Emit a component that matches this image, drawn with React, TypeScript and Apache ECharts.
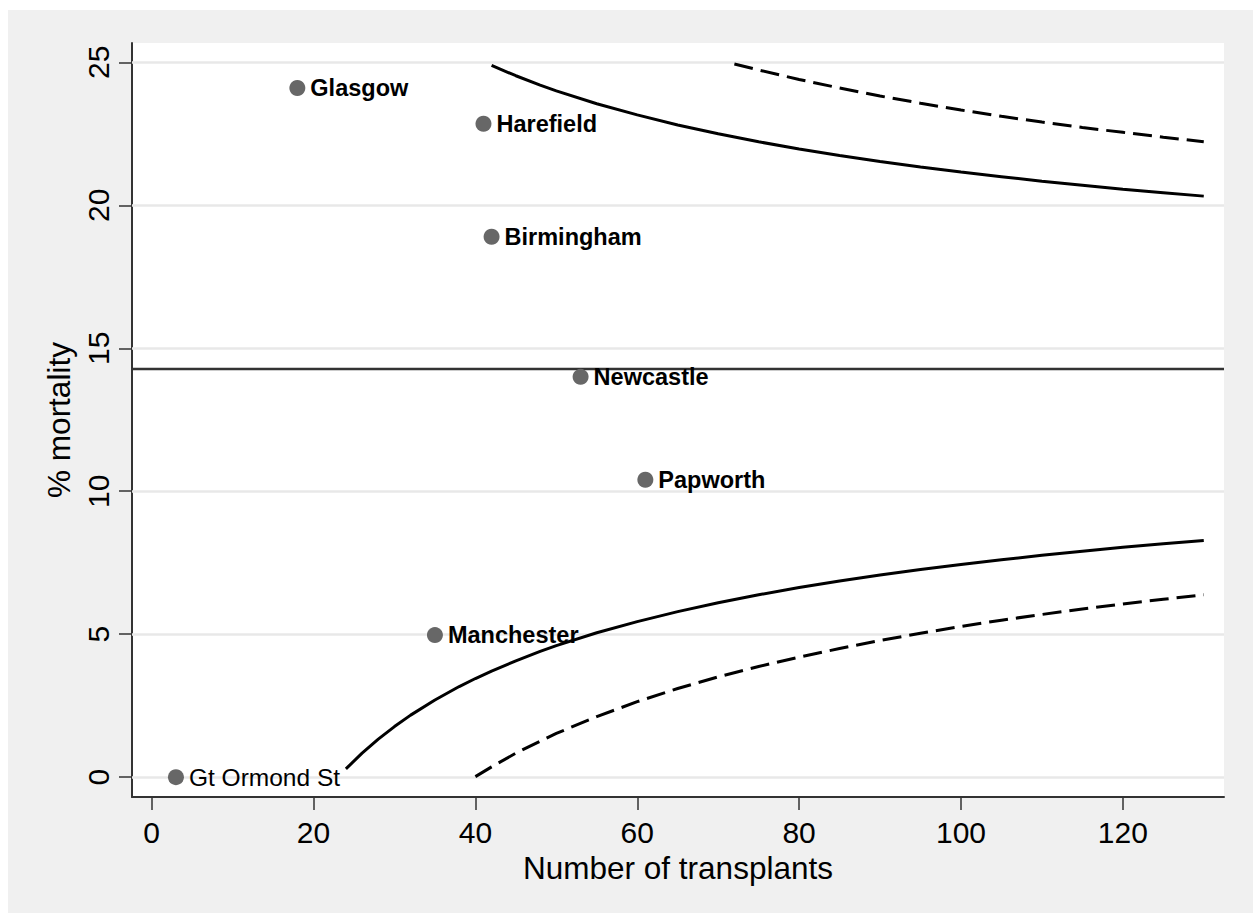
import React, { useEffect, useRef } from "react";
import * as echarts from "echarts";

// Transplant centres: number of transplants vs % mortality
const centreNames = ["Glasgow", "Harefield", "Birmingham", "Newcastle", "Papworth", "Manchester", "Gt Ormond St"];
const centreN = [18, 41, 42, 53, 61, 35, 3];
const centreMortality = [24.1, 22.85, 18.9, 14.0, 10.4, 4.97, 0];

// Overall mortality
const overallMortality = 14.3;

// 95% limits (solid)
const upper95N = [42, 45, 48, 50, 55, 60, 65, 70, 75, 80, 85, 90, 95, 100, 105, 110, 115, 120, 125, 130];
const upper95 = [24.89, 24.53, 24.2, 24.0, 23.55, 23.16, 22.81, 22.5, 22.22, 21.97, 21.74, 21.53, 21.34, 21.16, 21.0, 20.84, 20.7, 20.56, 20.44, 20.32];
const lower95N = [24, 26, 28, 30, 32, 35, 38, 40, 42, 45, 48, 50, 55, 60, 65, 70, 75, 80, 85, 90, 95, 100, 105, 110, 115, 120, 125, 130];
const lower95 = [0.29, 0.84, 1.33, 1.77, 2.17, 2.7, 3.17, 3.45, 3.71, 4.07, 4.4, 4.6, 5.05, 5.44, 5.79, 6.1, 6.38, 6.63, 6.86, 7.07, 7.26, 7.44, 7.6, 7.76, 7.9, 8.04, 8.16, 8.28];

// 99% limits (dashed)
const upper99N = [72, 75, 80, 85, 90, 95, 100, 105, 110, 115, 120, 125, 130];
const upper99 = [24.94, 24.73, 24.4, 24.1, 23.82, 23.57, 23.33, 23.11, 22.91, 22.72, 22.55, 22.38, 22.22];
const lower99N = [40, 42, 45, 48, 50, 55, 60, 65, 70, 75, 80, 85, 90, 95, 100, 105, 110, 115, 120, 125, 130];
const lower99 = [0.02, 0.36, 0.84, 1.26, 1.53, 2.12, 2.64, 3.1, 3.51, 3.87, 4.2, 4.5, 4.78, 5.03, 5.27, 5.49, 5.69, 5.88, 6.06, 6.22, 6.38];

// Tick labels
const xTicks = [0, 20, 40, 60, 80, 100, 120];
const yTicks = [0, 5, 10, 15, 20, 25];

const FONT = '"Liberation Sans", Arial, Helvetica, sans-serif';

function pairs(xs: number[], ys: number[]) {
  return xs.map((x, i) => [x, ys[i]]);
}

export default function App() {
  const ref = useRef<HTMLDivElement>(null);

  useEffect(() => {
    if (!ref.current) return;
    const chart = echarts.init(ref.current, null, { renderer: "svg" });

    const lineSeries = (name: string, data: number[][], dashed: boolean) => ({
      name,
      type: "line",
      data,
      showSymbol: false,
      symbol: "none",
      z: 3,
      lineStyle: { color: "#000", width: 3, type: dashed ? [19, 8] : "solid" },
      silent: true,
    });

    chart.setOption({
      animation: false,
      backgroundColor: "#f0f0f0",
      textStyle: { fontFamily: FONT },
      grid: {
        left: 124,
        top: 33,
        right: 29,
        bottom: 116,
        show: true,
        backgroundColor: "#ffffff",
        borderWidth: 0,
      },
      xAxis: {
        type: "value",
        min: -2.43,
        max: 132.5,
        name: "Number of transplants",
        nameLocation: "middle",
        nameGap: 52,
        nameTextStyle: { fontSize: 31.5, color: "#000", fontFamily: FONT },
        axisLine: { show: true, onZero: false, lineStyle: { color: "#333", width: 2 } },
        axisTick: { show: true, customValues: xTicks, length: 13, lineStyle: { color: "#333", width: 1.5 } },
        axisLabel: { customValues: xTicks, fontSize: 30, color: "#000", margin: 20, fontFamily: FONT },
        splitLine: { show: false },
      },
      yAxis: {
        type: "value",
        min: -0.693,
        max: 25.675,
        name: "% mortality",
        nameLocation: "middle",
        nameGap: 55,
        nameTextStyle: { fontSize: 31.5, color: "#000", fontFamily: FONT },
        axisLine: { show: true, onZero: false, lineStyle: { color: "#333", width: 2 } },
        axisTick: { show: true, customValues: yTicks, length: 13, lineStyle: { color: "#333", width: 1.5 } },
        axisLabel: { customValues: yTicks, fontSize: 30, color: "#000", margin: 19, rotate: 90, fontFamily: FONT },
        splitLine: { show: false },
      },
      series: [
        {
          name: "grid",
          type: "line",
          data: [],
          silent: true,
          markLine: {
            z: 1,
            silent: true,
            symbol: ["none", "none"],
            label: { show: false },
            lineStyle: { color: "#e8e8e8", width: 2.6, type: "solid" },
            data: yTicks.map((v) => ({ yAxis: v })),
          },
        },
        {
          name: "overall",
          type: "line",
          data: [],
          silent: true,
          markLine: {
            z: 2,
            silent: true,
            symbol: ["none", "none"],
            label: { show: false },
            lineStyle: { color: "#333", width: 2.4, type: "solid" },
            data: [{ yAxis: overallMortality }],
          },
        },
        lineSeries("upper95", pairs(upper95N, upper95), false),
        lineSeries("lower95", pairs(lower95N, lower95), false),
        lineSeries("upper99", pairs(upper99N, upper99), true),
        lineSeries("lower99", pairs(lower99N, lower99), true),
        {
          name: "centres",
          type: "scatter",
          z: 4,
          symbol: "circle",
          symbolSize: 16,
          itemStyle: { color: "#676767", opacity: 1 },
          data: centreNames.map((nm, i) => ({
            name: nm,
            value: [centreN[i], centreMortality[i]],
            label:
              nm === "Gt Ormond St"
                ? { fontWeight: "normal", fontSize: 24.5 }
                : undefined,
          })),
          label: {
            show: true,
            position: "right",
            distance: 5,
            formatter: (p: any) => p.name,
            color: "#000",
            fontSize: 23.5,
            fontWeight: "bold",
            fontFamily: FONT,
          },
        },
      ],
    });

    return () => chart.dispose();
  }, []);

  return (
    <div
      ref={ref}
      style={{ position: "absolute", left: 8, top: 10, width: 1245, height: 903 }}
    />
  );
}
